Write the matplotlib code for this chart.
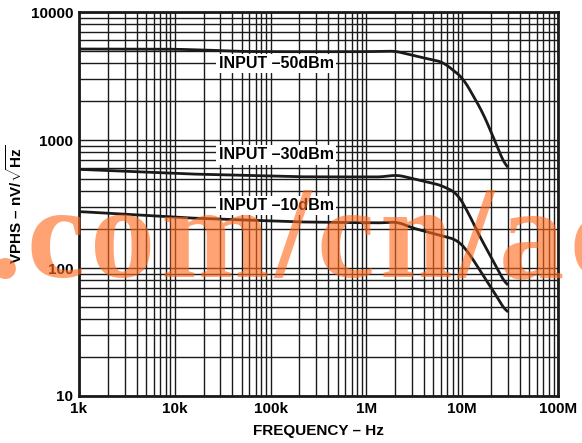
import numpy as np
import matplotlib
matplotlib.use("Agg")
import matplotlib.pyplot as plt
from matplotlib.ticker import LogLocator, FixedLocator, NullFormatter
from matplotlib.font_manager import FontProperties, findfont, get_font

plt.rcParams['font.family'] = ['Liberation Sans', 'DejaVu Sans']
plt.rcParams['font.weight'] = 'bold'
plt.rcParams['mathtext.fontset'] = 'custom'
plt.rcParams['mathtext.rm'] = 'Liberation Sans:bold'
plt.rcParams['mathtext.bf'] = 'Liberation Sans:bold'

# -----------------------------------------------------------------------------
# curves (frequency in Hz, noise in nV/rtHz)
# -----------------------------------------------------------------------------
freq_50 = [1e3, 1e4, 2e4, 5e4, 1e5, 5e5, 1e6, 2e6, 3.6e6, 6.3e6, 1.02e7, 1.65e7, 2.94e7]
vphs_50 = [5140, 5120, 5050, 4920, 4900, 4890, 4900, 4950, 4450, 4060, 3050, 1625, 583]

freq_30 = [1e3, 1.4e4, 2e5, 1.38e6, 2.1e6, 5.9e6, 8.8e6, 1.12e7, 1.53e7, 2.09e7, 2.94e7]
vphs_30 = [590, 543, 516, 514, 533, 445, 385, 284, 175, 115, 71]

freq_10 = [1e3, 1.4e4, 2e5, 1.38e6, 2.1e6, 3.06e6, 8.8e6, 1.12e7, 1.53e7, 2.09e7, 2.94e7]
vphs_10 = [276, 246, 229, 225, 229, 205, 166, 138, 96, 67, 44]

labels = ["INPUT \u201350dBm", "INPUT \u201330dBm", "INPUT \u201310dBm"]
label_y = [3930, 764, 310]

x_ticks = [1e3, 1e4, 1e5, 1e6, 1e7, 1e8]
x_ticklabels = ["1k", "10k", "100k", "1M", "10M", "100M"]
y_ticks = [10, 100, 1000, 10000]
y_ticklabels = ["10", "100", "1000", "10000"]

watermark = ".com/cn/ac"

# -----------------------------------------------------------------------------
# figure and axes
# -----------------------------------------------------------------------------
fig = plt.figure(figsize=(5.82, 4.43), dpi=100)
ax = fig.add_axes([0.1357, 0.1061, 0.8231, 0.8668])

ax.set_xscale('log')
ax.set_yscale('log')
ax.set_xlim(1e3, 1e8)
ax.set_ylim(10, 10000)

ax.xaxis.set_major_locator(FixedLocator(x_ticks))
ax.set_xticklabels(x_ticklabels)
ax.yaxis.set_major_locator(FixedLocator(y_ticks))
ax.set_yticklabels(y_ticklabels)
ax.xaxis.set_minor_locator(LogLocator(base=10, subs=np.arange(2, 10)))
ax.yaxis.set_minor_locator(LogLocator(base=10, subs=np.arange(2, 10)))
ax.xaxis.set_minor_formatter(NullFormatter())
ax.yaxis.set_minor_formatter(NullFormatter())
ax.tick_params(which='both', length=0, labelsize=11, pad=4)

ax.grid(which='both', color='#1a1a1a', linewidth=1.0)
for sp in ax.spines.values():
    sp.set_linewidth(2)
    sp.set_color('#1a1a1a')

# -----------------------------------------------------------------------------
# curves and labels
# -----------------------------------------------------------------------------
for fx, fy in [(freq_50, vphs_50), (freq_30, vphs_30), (freq_10, vphs_10)]:
    lx = np.log10(fx)
    ly = np.log10(fy)
    xs = np.linspace(lx[0], lx[-1], 300)
    ys = np.interp(xs, lx, ly)
    # light smoothing of the polyline
    k = np.ones(9) / 9
    ys_s = np.convolve(np.pad(ys, 4, mode='edge'), k, mode='valid')
    ax.plot(10 ** xs, 10 ** ys_s, color='#1a1a1a', linewidth=2, zorder=3)

for txt, yv in zip(labels, label_y):
    ax.text(1.14e5, yv, txt, ha='center', va='center', fontsize=11.5,
            fontweight='bold', zorder=4,
            bbox=dict(facecolor='white', edgecolor='none', pad=1.5))

ax.set_xlabel("FREQUENCY \u2013 Hz", fontsize=11, fontweight='bold', labelpad=6)
ax.set_ylabel("VPHS \u2013 nV/$\\sqrt{\\mathrm{Hz}}$",
              fontsize=11, fontweight='bold', labelpad=4)

# -----------------------------------------------------------------------------
# watermark, one glyph at a time with a bit of extra tracking
# -----------------------------------------------------------------------------
wm_size = 94
fp = FontProperties(family='Liberation Serif', weight='bold')
ft = get_font(findfont(fp))
ft.set_size(wm_size, 100)
W = 582.0
x_px = -0.02 * W
for ch in watermark:
    fig.text(x_px / W, 0.374, ch, fontsize=wm_size, fontproperties=fp,
             color='#ff6a1f', alpha=0.62, ha='left', va='baseline', zorder=10)
    x_px += ft.load_char(ord(ch)).linearHoriAdvance / 65536 + 5.4

fig.savefig("out.png", dpi=100)
